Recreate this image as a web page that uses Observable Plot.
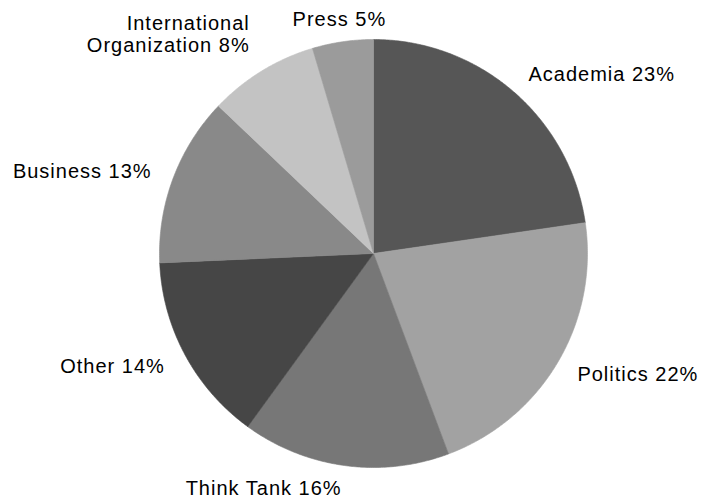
<!DOCTYPE html>
<html>
<head>
<meta charset="utf-8">
<script src="https://cdn.jsdelivr.net/npm/d3@7"></script>
<script src="https://cdn.jsdelivr.net/npm/@observablehq/plot@0.6"></script>
<style>
  html, body { margin: 0; padding: 0; background: #fff; }
  #chart svg text { letter-spacing: 1px; }
</style>
</head>
<body>
<div id="chart"></div>
<script>
// Categories, clockwise from 12 o'clock
const categories = ["Academia", "Politics", "Think Tank", "Other", "Business", "International Organization", "Press"];
// Slice sizes (percent of total)
const shares = [22.7, 21.6, 15.7, 14.3, 12.8, 8.3, 4.6];
// Label texts as printed
const labelNames = ["Academia", "Politics", "Think Tank", "Other", "Business", "International\nOrganization", "Press"];
const labelPercents = [23, 22, 16, 14, 13, 8, 5];
const colors = ["#565656", "#a2a2a2", "#777777", "#464646", "#898989", "#c3c3c3", "#9b9b9b"];

const arcs = d3.pie().sort(null).value(d => d)(shares);

// slice outlines in unit-circle coordinates (y up)
const poly = [];
arcs.forEach((a, i) => {
  const name = categories[i];
  poly.push({name, x: 0, y: 0});
  const n = Math.max(2, Math.ceil((a.endAngle - a.startAngle) / (Math.PI / 360)));
  for (let k = 0; k <= n; k++) {
    const t = a.startAngle + (a.endAngle - a.startAngle) * k / n;
    poly.push({name, x: Math.sin(t), y: Math.cos(t)});
  }
  poly.push({name, x: 0, y: 0});
});

const labelR = 1.107;
const labels = arcs.map((a, i) => {
  const m = (a.startAngle + a.endAngle) / 2;
  const s = Math.sin(m), c = Math.cos(m);
  const textAnchor = c > 0.95 ? "middle" : (s > 0 ? "start" : "end");
  const lineAnchor = (c > 0.8 && textAnchor !== "middle") ? "bottom" : "middle";
  return {
    text: `${labelNames[i]} ${labelPercents[i]}%`,
    x: labelR * s,
    y: labelR * c,
    textAnchor, lineAnchor
  };
});

const groups = d3.groups(labels, d => d.textAnchor + "|" + d.lineAnchor);
const textMarks = groups.map(([key, rows]) => {
  const [textAnchor, lineAnchor] = key.split("|");
  return Plot.text(rows, {
    x: "x", y: "y", text: "text",
    textAnchor, lineAnchor,
    fontSize: 20, fontFamily: "Liberation Sans, Arial, sans-serif",
    lineHeight: 1.1, fill: "#000"
  });
});

const chart = Plot.plot({
  width: 705,
  height: 498,
  margin: 0,
  x: {domain: [-1, 1], range: [159, 587], axis: null},
  y: {domain: [-1, 1], range: [467, 39], axis: null},
  color: {domain: categories, range: colors},
  marks: [
    Plot.line(poly, {x: "x", y: "y", z: "name", fill: "name", stroke: "name", strokeWidth: 0.6, curve: "linear"}),
    ...textMarks
  ]
});
document.getElementById("chart").appendChild(chart);
</script>
</body>
</html>
